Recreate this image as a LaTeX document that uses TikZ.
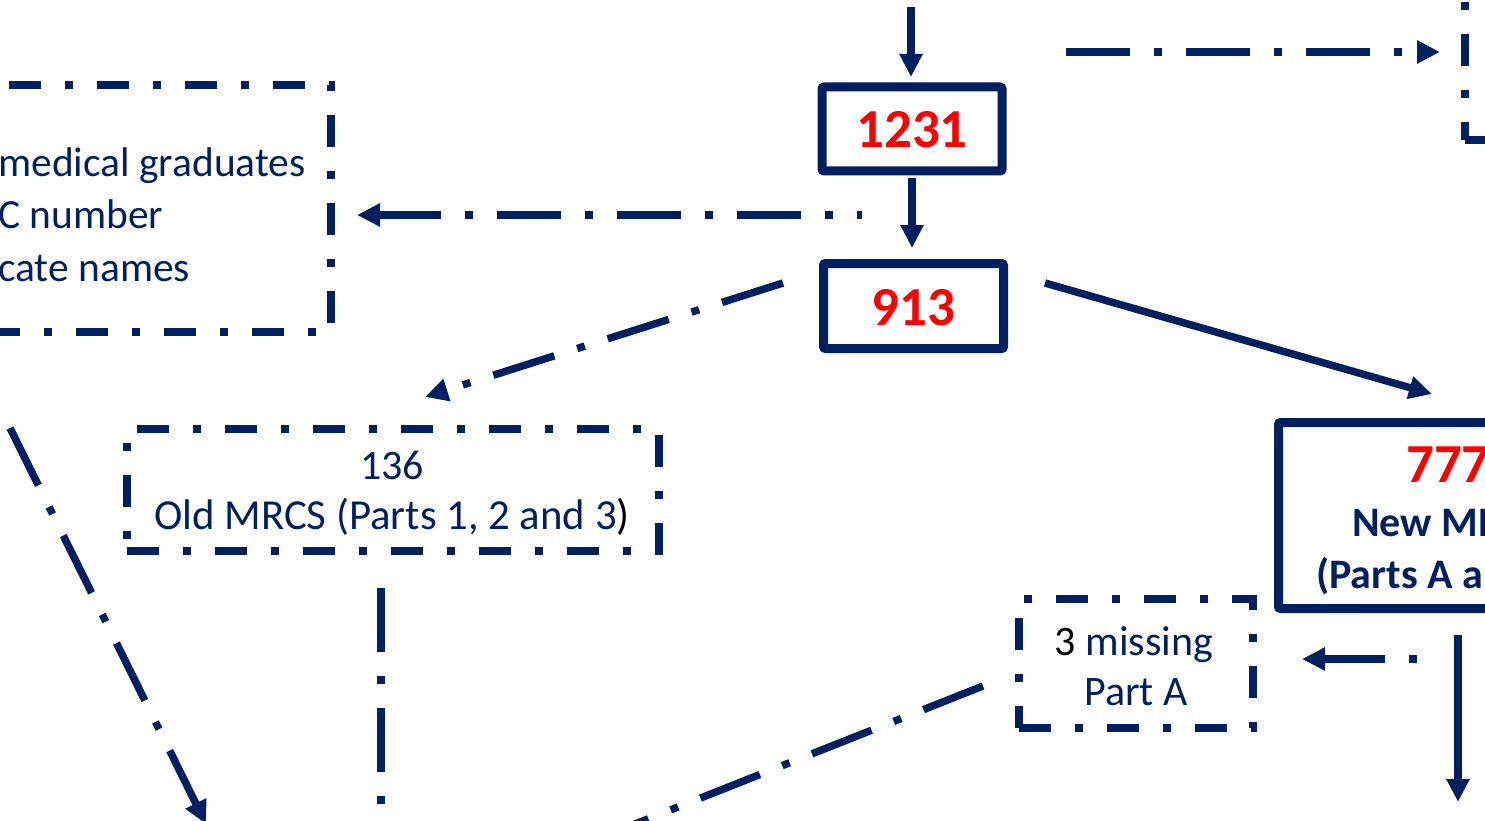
\documentclass[tikz,border=0pt]{standalone}
\usepackage{fontspec}
\setmainfont{Carlito}
\usetikzlibrary{arrows.meta}
\definecolor{navy}{RGB}{0,32,96}
\definecolor{myred}{RGB}{255,0,0}
\begin{document}
\begin{tikzpicture}[x=1pt,y=-1pt,
  solidbox/.style={draw=navy, line width=9pt, rectangle, rounded corners=2pt, inner sep=0pt, outer sep=0pt},
  dbox/.style={draw=navy, line width=8pt, rectangle, inner sep=0pt, outer sep=0pt, dash pattern=on 32pt off 24pt on 8pt off 24pt},
  conn/.style={draw=navy, line width=7.5pt},
  dconn/.style={conn, dash pattern=on 64pt off 24pt on 8pt off 24pt},
  tip/.style={-{Triangle[length=23pt,width=22pt]}},
  reg/.style={font=\fontsize{42}{50}\selectfont, text=navy, inner sep=0pt, anchor=base},
  regb/.style={font=\fontsize{42}{50}\selectfont\bfseries, text=navy, inner sep=0pt, anchor=base west},
  big/.style={font=\fontsize{55}{60}\selectfont\bfseries, text=myred, inner sep=0pt, anchor=base},
  ]
\useasboundingbox (0,0) rectangle (1485,821);
\clip (0,0) rectangle (1485,821);

% boxes
\node[solidbox, minimum width=180pt, minimum height=84pt] (b1231) at (912,129) {};
\node[big] (t1231) at (912,148) {1231};
\node[solidbox, minimum width=180pt, minimum height=85pt] (b913) at (913.5,306) {};
\node[big] (t913) at (913.5,325) {913};
\node[solidbox, minimum width=341pt, minimum height=186pt] (b777) at (1449,515.5) {};
\node[big, anchor=base west] (t777) at (1406,482) {777};
\node[regb] (tnew) at (1352,536) {New MR};
\node[regb] (tparts) at (1316,588) {(Parts A a};

\node[dbox, minimum width=431pt, minimum height=247pt] (left) at (115,208.5) {};
\node[reg, anchor=base west, font=\fontsize{41.5}{50}\selectfont] (tl1) at (-2,177) {medical graduates};
\node[reg, anchor=base west, font=\fontsize{41.5}{50}\selectfont] (tl2) at (-2,229) {C number};
\node[reg, anchor=base west, font=\fontsize{41.5}{50}\selectfont] (tl3) at (-2,281) {cate names};

\node[dbox, minimum width=532pt, minimum height=122pt] (old) at (392.5,490) {};
\node[reg] (t136) at (392,479) {136};
\node[reg, font=\fontsize{42.8}{50}\selectfont] (tmrcs) at (392,529) {Old MRCS (Parts 1, 2 and 3\textcolor{black}{)}};

\node[dbox, minimum width=234pt, minimum height=129pt] (miss) at (1136,663.5) {};
\node[reg] (tmiss1) at (1134,655) {\textcolor{black}{3} missing};
\node[reg] (tmiss2) at (1136,705) {Part A};

\node[dbox, minimum width=270pt, minimum height=223pt] (trbox) at (1600,28.5) {};

% connectors
\coordinate (topIn) at (911,7);
\draw[conn,tip,shorten >=10pt] (topIn) -- (topIn |- b1231.north);
\draw[conn,tip,shorten <=7pt,shorten >=15.5pt] (b1231.south) -- (b1231.south |- b913.north);

\coordinate (c1) at (862,215);
\draw[dconn,tip,dash phase=59pt,shorten >=26.5pt] (c1) -- (c1 -| left.east);

\coordinate (c2) at (1066,52);
\draw[dconn,tip,shorten >=25pt] (c2) -- (c2 -| trbox.west);

\coordinate (c3s) at (783,283);
\coordinate (c3e) at (425,397);
\draw[dconn,tip] (c3s) -- (c3e);

\coordinate (c4s) at (1045,283);
\coordinate (c4e) at (1432,394);
\draw[conn,tip] (c4s) -- (c4e);

\coordinate (c5) at (1417,659);
\draw[dconn,tip,dash phase=88pt,shorten >=49pt] (c5) -- (c5 -| miss.east);

\coordinate (c6) at (1458,802);
\draw[conn,tip,shorten <=26.5pt] (c6 |- b777.south) -- (c6);

\coordinate (c7s) at (983,686);
\coordinate (c7e) at (557,855);
\draw[dconn] (c7s) -- (c7e);

\coordinate (c8) at (381,900);
\draw[dconn,shorten <=37pt] (c8 |- old.south) -- (c8);

\coordinate (c9s) at (10,428);
\coordinate (c9e) at (206,824);
\draw[dconn,tip] (c9s) -- (c9e);
\end{tikzpicture}
\end{document}
